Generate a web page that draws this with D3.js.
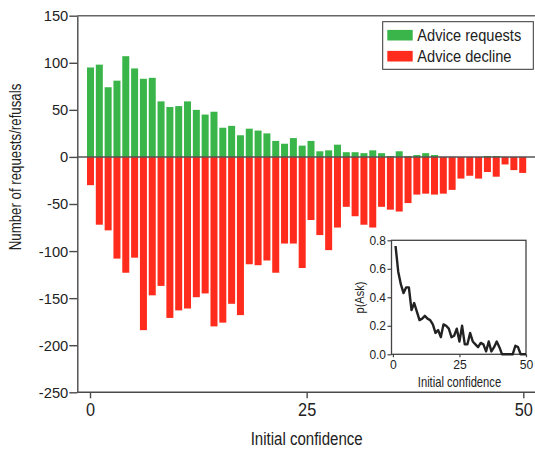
<!DOCTYPE html>
<html>
<head>
<meta charset="utf-8">
<script src="https://cdn.jsdelivr.net/npm/d3@7/dist/d3.min.js"></script>
<style>
  html, body { margin: 0; padding: 0; background: #fff; }
  svg { display: block; font-family: "Liberation Sans", Arial, sans-serif; }
</style>
</head>
<body>
<svg id="chart" width="535" height="450"></svg>
<script>
// Advice requests (positive) and declines (negative) per initial-confidence bin
const requests = [95, 98, 74, 81, 107, 94, 83, 84, 59, 53,
                  54, 59, 50, 45, 48, 31, 33, 23, 30, 28,
                  25, 17, 14, 20, 12, 17, 6, 7, 13, 5,
                  5, 4, 7, 4, 1, 6, 1, 2, 4, 2,
                  0, 0, 0, 0, 0, 1, 1, 0, 0, 0];
const declines = [-30, -72, -78, -108, -123, -107, -184, -147, -137, -171,
                  -163, -161, -149, -145, -180, -176, -156, -168, -114, -115,
                  -110, -123, -92, -92, -118, -67, -83, -99, -75, -53,
                  -63, -72, -75, -53, -56, -58, -49, -40, -39, -40,
                  -39, -35, -23, -20, -23, -16, -21, -8, -14, -17];
// Probability of asking for advice, per confidence level 1..50
const pAsk = [0.76, 0.58, 0.49, 0.43, 0.47, 0.47, 0.31, 0.36, 0.30, 0.24,
              0.25, 0.27, 0.25, 0.24, 0.21, 0.15, 0.17, 0.12, 0.21, 0.20,
              0.18, 0.12, 0.13, 0.18, 0.09, 0.20, 0.07, 0.07, 0.15, 0.09,
              0.07, 0.05, 0.08, 0.07, 0.02, 0.09, 0.02, 0.05, 0.09, 0.05,
              0, 0, 0, 0, 0, 0.06, 0.05, 0, 0, 0];
const bins = d3.range(requests.length);
const xTicks = [0, 25, 50];
const yTicks = [150, 100, 50, 0, -50, -100, -150, -200, -250];
const insetYTicks = [0, 0.2, 0.4, 0.6, 0.8];
const seriesNames = ["Advice requests", "Advice decline"];
const seriesColors = ["#3ab54a", "#ff2b1c"];

const svg = d3.select("#chart");
const axisColor = "#4a4a4a";
const textColor = "#222";

// Condense text horizontally around its anchor point
function condense(sel, sx) {
  sel.each(function () {
    const t = d3.select(this);
    const x0 = +t.attr("x") || 0, y0 = +t.attr("y") || 0;
    t.attr("x", null).attr("y", null)
      .attr("transform", `translate(${x0},${y0}) scale(${sx},1)`);
  });
}

// Main scales
const x = d3.scaleLinear().domain([0, 50]).range([90, 523.3]);
const xBar = d3.scalePoint().domain(bins).range([x(0) + 0.5, x(50) - 0.6]);
const y = d3.scaleLinear().domain([-250, 150]).range([392.3, 15.7]);
const left = 77.3, right = 545;
const barW = 7;

// Bars
const bars = svg.append("g");
bars.selectAll("rect.req").data(bins).join("rect")
  .attr("class", "req")
  .attr("x", i => xBar(i) - barW / 2)
  .attr("width", barW)
  .attr("y", i => y(requests[i]))
  .attr("height", i => y(0) - y(requests[i]))
  .attr("fill", seriesColors[0]);
bars.selectAll("rect.dec").data(bins).join("rect")
  .attr("class", "dec")
  .attr("x", i => xBar(i) - barW / 2)
  .attr("width", barW)
  .attr("y", y(0))
  .attr("height", i => y(declines[i]) - y(0))
  .attr("fill", seriesColors[1]);

// Zero line and top frame
svg.append("line").attr("x1", left).attr("x2", right)
  .attr("y1", y(0)).attr("y2", y(0))
  .attr("stroke", "#555").attr("stroke-width", 1.6);
svg.append("line").attr("x1", left).attr("x2", right)
  .attr("y1", y(150)).attr("y2", y(150))
  .attr("stroke", "#666").attr("stroke-width", 1.4);

// Y axis
const yAxis = svg.append("g").attr("transform", `translate(${left},0)`)
  .call(d3.axisLeft(y).tickValues(yTicks).tickFormat(d => String(d)).tickSize(8).tickPadding(1).tickSizeOuter(0));
yAxis.select(".domain").attr("stroke", axisColor).attr("stroke-width", 1.4);
yAxis.selectAll(".tick line").attr("stroke", axisColor).attr("stroke-width", 1.4);
yAxis.selectAll(".tick text").attr("font-size", 15.5).attr("fill", textColor).call(condense, 0.95);

// X axis
const xAxisG = svg.append("g").attr("transform", `translate(0,${y(-250)})`)
  .call(d3.axisBottom(x).tickValues(xTicks).tickSize(6).tickPadding(5).tickSizeOuter(0));
xAxisG.select(".domain").remove();
xAxisG.append("line").attr("x1", left).attr("x2", right)
  .attr("stroke", axisColor).attr("stroke-width", 1.4);
xAxisG.selectAll(".tick line").attr("stroke", axisColor).attr("stroke-width", 1.4);
xAxisG.selectAll(".tick text").attr("font-size", 18.5).attr("fill", textColor).call(condense, 0.88);

// Axis titles
svg.append("text").attr("transform", `translate(${x(25)},445) scale(0.85,1)`)
  .attr("text-anchor", "middle").attr("font-size", 17.7).attr("fill", textColor)
  .text("Initial confidence");
svg.append("text").attr("transform", "translate(20.5,167) rotate(-90) scale(0.84,1)")
  .attr("text-anchor", "middle").attr("font-size", 15.8).attr("fill", textColor)
  .text("Number of requests/refusals");

// Legend
const legend = svg.append("g");
legend.append("rect").attr("x", 382.7).attr("y", 21.7).attr("width", 150.6).attr("height", 47.6)
  .attr("fill", "#fff").attr("stroke", "#333").attr("stroke-width", 1);
seriesNames.forEach((name, k) => {
  const cy = 35.2 + k * 21;
  legend.append("rect").attr("x", 387.3).attr("y", cy - 5.3).attr("width", 25.4).attr("height", 10.6)
    .attr("fill", seriesColors[k]);
  legend.append("text").attr("transform", `translate(417.3,${cy}) scale(0.87,1)`).attr("dy", "0.35em")
    .attr("font-size", 16.8).attr("fill", textColor).text(name);
});

// Inset: p(Ask) by initial confidence
const ix = d3.scaleLinear().domain([0, 50]).range([392.9, 526]);
const iy = d3.scaleLinear().domain([0, 0.8]).range([354.3, 240.3]);
const ixPoint = d3.scalePoint().domain(bins).range([ix(1), ix(50)]);
const boxL = 391.5, boxR = 526, boxT = 240.3, boxB = 354.3;
const inset = svg.append("g");
inset.append("rect").attr("x", boxL).attr("y", boxT).attr("width", boxR - boxL).attr("height", boxB - boxT)
  .attr("fill", "#fff").attr("stroke", "#444").attr("stroke-width", 1.3);

const iyAxis = inset.append("g").attr("transform", `translate(${boxL},0)`)
  .call(d3.axisLeft(iy).tickValues(insetYTicks).tickFormat(d3.format(".1f")).tickSize(4).tickPadding(1.5).tickSizeOuter(0));
iyAxis.select(".domain").remove();
iyAxis.selectAll(".tick line").attr("stroke", "#444").attr("stroke-width", 1.2);
iyAxis.selectAll(".tick text").attr("font-size", 13).attr("fill", textColor).call(condense, 0.92);

const ixAxis = inset.append("g").attr("transform", `translate(0,${boxB})`)
  .call(d3.axisBottom(ix).tickValues(xTicks).tickSize(3).tickPadding(2).tickSizeOuter(0));
ixAxis.select(".domain").remove();
ixAxis.selectAll(".tick line").attr("stroke", "#444").attr("stroke-width", 1.2);
ixAxis.selectAll(".tick text").attr("font-size", 13.5).attr("fill", textColor).call(condense, 0.9);

inset.append("path").datum(bins)
  .attr("fill", "none").attr("stroke", "#222").attr("stroke-width", 2.4)
  .attr("stroke-linejoin", "round")
  .attr("d", d3.line().x(i => ixPoint(i)).y(i => iy(pAsk[i])));

inset.append("text").attr("transform", `translate(${ix(25)},386.5) scale(0.8,1)`)
  .attr("text-anchor", "middle").attr("font-size", 14).attr("fill", textColor)
  .text("Initial confidence");
inset.append("text").attr("transform", "translate(364,297.5) rotate(-90) scale(0.85,1)")
  .attr("text-anchor", "middle").attr("font-size", 13).attr("fill", textColor)
  .text("p(Ask)");
</script>
</body>
</html>
